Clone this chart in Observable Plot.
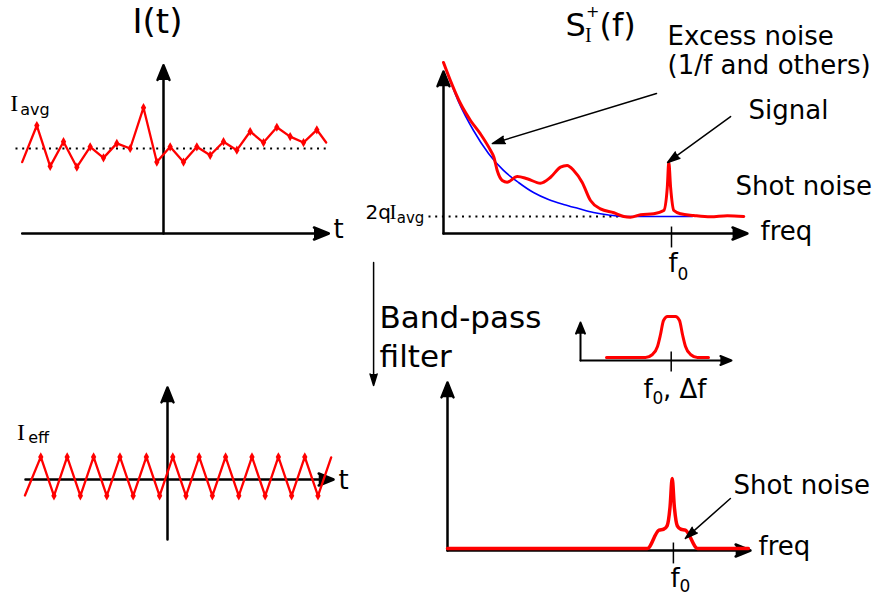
<!DOCTYPE html>
<html><head><meta charset="utf-8">
<script src="https://cdn.jsdelivr.net/npm/d3@7"></script>
<script src="https://cdn.jsdelivr.net/npm/@observablehq/plot@0.6"></script>
<style>
body{margin:0;background:#fff}
#wrap{position:relative;width:888px;height:596px;background:#fff;overflow:hidden}
</style>
</head><body><div id="wrap"></div>
<script>
// ---------------- DATA ----------------
// Panel 1: raw current I(t) (arbitrary units, I_avg = 5)
const tNoisy = [-10.6, -9.5, -8.5, -7.5, -6.5, -5.5, -4.5, -3.5, -2.5, -1.5, -0.5, 0.5, 1.5, 2.5, 3.5, 4.5, 5.5, 6.5, 7.5, 8.5, 9.5, 10.5, 11.5, 12.2];
const iNoisy = [4.2, 6.35, 3.95, 5.4, 3.9, 5.1, 4.45, 5.3, 5.0, 7.4, 4.2, 5.1, 4.2, 5.1, 4.6, 5.4, 4.9, 6.0, 5.35, 6.25, 5.7, 5.35, 6.1, 5.35];
const iAvg = 5;
// Panel 2: filtered current
const tFilt = [-10.8, -9.6, -8.6, -7.6, -6.6, -5.6, -4.6, -3.6, -2.6, -1.6, -0.6, 0.4, 1.4, 2.4, 3.4, 4.4, 5.4, 6.4, 7.4, 8.4, 9.4, 10.4, 11.4, 12.4];
const iFilt = [-0.94, 1.33, -0.96, 1.33, -0.96, 1.33, -0.96, 1.33, -0.96, 1.33, -0.96, 1.33, -0.96, 1.33, -0.96, 1.33, -0.96, 1.33, -0.96, 1.33, -0.96, 1.33, -0.96, 1.3];
// Panel 3: spectral density S(f)
const fShot = [0, 0.5, 1, 1.5, 2, 2.5, 3, 3.5, 4, 4.5, 5, 5.5, 6, 7, 8.3];
const sShot = [10.06, 7.76, 6.06, 4.71, 3.71, 3.0, 2.41, 2.0, 1.71, 1.47, 1.24, 1.09, 1.0, 1.0, 1.0];
const fSpec = [0, 0.23, 0.57, 0.9, 1.23, 1.57, 1.68, 1.79, 1.96, 2.12, 2.46, 2.79, 3.23, 3.57, 3.9, 4.12, 4.34, 4.62, 4.9, 5.23, 5.68, 6.01, 6.23, 6.57, 7.01, 7.34, 7.46, 7.51, 7.57, 7.68, 7.9, 8.34, 8.9, 9.46, 10.01];
const sSpec = [10.06, 9.0, 7.63, 6.65, 5.86, 4.88, 4.49, 3.71, 3.12, 3.02, 3.35, 3.22, 2.96, 3.31, 3.9, 4.0, 3.71, 3.02, 1.94, 1.45, 1.22, 1.0, 0.96, 1.1, 1.16, 1.35, 2.72, 4.19, 2.72, 1.35, 1.16, 1.06, 0.98, 1.04, 1.0];
const shotLevel = 1;
const f0Top = 7.6;
// Panel 4: band-pass filter gain
const fFilter = [2.6, 6.5, 7.2, 7.7, 8.0, 8.3, 8.7, 9.5, 9.9, 10.2, 10.5, 11.0, 11.7, 12.8];
const gFilter = [0.075, 0.075, 0.15, 0.35, 0.65, 1.0, 1.1, 1.1, 1.0, 0.65, 0.35, 0.15, 0.075, 0.075];
const f0Filter = 9.07;
// Panel 5: filtered spectrum
const fOut = [0, 6.66, 7.05, 7.2, 7.32, 7.42, 7.49, 7.56, 7.66, 7.78, 7.93, 8.34, 10.03];
const sOut = [0.12, 0.12, 1.2, 1.25, 1.45, 2.6, 4.24, 2.6, 1.45, 1.25, 1.2, 0.12, 0.12];
const f0Out = 7.53;
// Texts
const titles = ["I(t)", "S", "I", "+", "(f)"];
const notes = ["Excess noise", "(1/f and others)", "Signal", "Shot noise", "freq", "t", "Band-pass", "filter"];

// ---------------- HELPERS ----------------
const SANS = "DejaVu Sans", SERIF = "Liberation Serif";
const RED = "#ff0000", BLUE = "#0000ff";
const wrap = document.getElementById("wrap");
const pts = (xs, ys) => xs.map((x, i) => ({x, y: ys[i]}));
function label(s, x, y, o = {}) {
  return Plot.text([{x, y, s}], {x: "x", y: "y", text: "s", fontSize: o.size ?? 26,
    fontFamily: o.serif ? SERIF : SANS, textAnchor: o.anchor ?? "start", lineAnchor: "bottom", fill: "black"});
}
function arrow(x1, y1, x2, y2, o = {}) {
  const w = o.w ?? 2.5, L = o.L ?? 16;
  return Plot.arrow([{x1, y1, x2, y2}], {x1: "x1", y1: "y1", x2: "x2", y2: "y2", stroke: "black", fill: "black",
    strokeWidth: w, headLength: L * 1.5 / w, headAngle: o.angle ?? 44});
}
function seg(x1, y1, x2, y2, o = {}) {
  return Plot.link([{x1, y1, x2, y2}], {x1: "x1", y1: "y1", x2: "x2", y2: "y2", stroke: "black",
    strokeWidth: o.w ?? 1.5, strokeDasharray: o.dash});
}
function panel(xs, ys, marks) {
  const svg = Plot.plot({width: 888, height: 596, margin: 0,
    x: {...xs, axis: null}, y: {...ys, axis: null}, marks});
  Object.assign(svg.style, {position: "absolute", left: "0px", top: "0px", background: "transparent", overflow: "visible", maxWidth: "none"});
  wrap.append(svg);
}

// ---------------- PANEL 1: I(t) ----------------
const noisy = pts(tNoisy, iNoisy);
panel({domain: [0, 12], range: [163, 323]}, {domain: [0, 10], range: [233, 63]}, [
  seg(-11.1, iAvg, 12.5, iAvg, {w: 2, dash: "2,4.7"}),
  arrow(-10.6, 0, 12.4, 0),
  arrow(0, 0, 0, 9.9),
  Plot.line(noisy, {x: "x", y: "y", stroke: RED, strokeWidth: 2.3}),
  Plot.dot(noisy.slice(1, -1), {x: "x", y: "y", symbol: "diamond", r: 2.8, fill: RED}),
  label(titles[0], -0.45, 11.82, {size: 34, anchor: "middle"}),
  label(notes[5], 12.75, -0.29),
  label("I", -11.5, 7.18, {serif: true, size: 24}),
  label("avg", -10.75, 6.95, {size: 16})
]);

// ---------------- PANEL 2: filtered I(t) ----------------
const filt = pts(tFilt, iFilt);
panel({domain: [0, 12], range: [167, 325.4]}, {domain: [0, 10], range: [479, 309]}, [
  arrow(-10.76, 0, 12.58, 0),
  arrow(0, -3.53, 0, 5.41),
  Plot.line(filt, {x: "x", y: "y", stroke: RED, strokeWidth: 2.3}),
  Plot.dot(filt.slice(1, -1), {x: "x", y: "y", symbol: "diamond", r: 2.8, fill: RED}),
  label(notes[5], 12.95, -0.53),
  label("I", -11.4, 2.35, {serif: true, size: 24}),
  label("eff", -10.55, 2.12, {size: 16})
]);

// ---------------- PANEL 3: S(f) ----------------
panel({domain: [0, 10], range: [443, 743]}, {domain: [0, 10], range: [233, 63]}, [
  seg(-0.5, shotLevel, 6, shotLevel, {w: 2, dash: "2,4.7"}),
  arrow(0, 0, 10.13, 0),
  arrow(0, 0, 0, 9.53),
  seg(f0Top, 0.41, f0Top, -0.82, {w: 1.5}),
  Plot.line(pts(fShot, sShot), {x: "x", y: "y", stroke: BLUE, strokeWidth: 1.6, curve: "monotone-x"}),
  Plot.line(pts(fSpec, sSpec), {x: "x", y: "y", stroke: RED, strokeWidth: 3, curve: "monotone-x"}),
  arrow(7.1, 8.24, 1.63, 5.29, {w: 1.5, L: 13, angle: 34}),
  arrow(9.57, 6.88, 7.47, 4.18, {w: 1.5, L: 13, angle: 34}),
  arrow(-2.33, -1.71, -2.33, -8.94, {w: 1.5, L: 12, angle: 34}),
  label(titles[1], 4.07, 11.59, {size: 32}),
  label(titles[2], 4.72, 11.29, {serif: true, size: 20}),
  label(titles[3], 4.75, 12.72, {size: 16}),
  label(titles[4], 5.2, 11.59, {size: 32}),
  label(notes[0], 7.47, 11.06),
  label(notes[1], 7.47, 9.41),
  label(notes[2], 10.17, 6.76),
  label(notes[3], 9.73, 2.24),
  label(notes[4], 10.57, -0.41),
  label("f", f0Top - 0.1, -2.29),
  label("0", f0Top + 0.2, -2.76, {size: 17}),
  label("2q", -2.6, 0.88, {size: 20}),
  label("I", -1.8, 0.88, {serif: true, size: 21}),
  label("avg", -1.56, 0.6, {size: 15}),
  label(notes[6], -2.13, -5.53, {size: 31}),
  label(notes[7], -2.13, -7.88, {size: 31})
]);

// ---------------- PANEL 4: filter ----------------
panel({domain: [0, 10], range: [580, 680]}, {domain: [0, 1], range: [360, 320]}, [
  arrow(0, 0, 15.1, 0, {w: 2, L: 12}),
  arrow(0, 0, 0, 0.95, {w: 2, L: 12}),
  seg(f0Filter, 0.225, f0Filter, -0.275, {w: 1.5}),
  Plot.line(pts(fFilter, gFilter), {x: "x", y: "y", stroke: RED, strokeWidth: 3, curve: "monotone-x"}),
  label("f", 6.3, -0.925),
  label("0", 7.2, -1.075, {size: 17}),
  label(", Δf", 8.25, -0.925)
]);

// ---------------- PANEL 5: filtered spectrum ----------------
panel({domain: [0, 10], range: [447, 747]}, {domain: [0, 10], range: [550, 380]}, [
  arrow(0, 0, 10.1, 0),
  arrow(0, 0, 0, 9.88),
  seg(f0Out, 0.47, f0Out, -0.76, {w: 1.5}),
  Plot.line(pts(fOut, sOut), {x: "x", y: "y", stroke: RED, strokeWidth: 3.5, curve: "monotone-x"}),
  arrow(9.43, 3.06, 7.93, 0.71, {w: 1.5, L: 13, angle: 34}),
  label(notes[3], 9.53, 3.35),
  label(notes[4], 10.37, -0.29),
  label("f", f0Out - 0.1, -2.12),
  label("0", f0Out + 0.2, -2.47, {size: 17})
]);
</script>
</body></html>
